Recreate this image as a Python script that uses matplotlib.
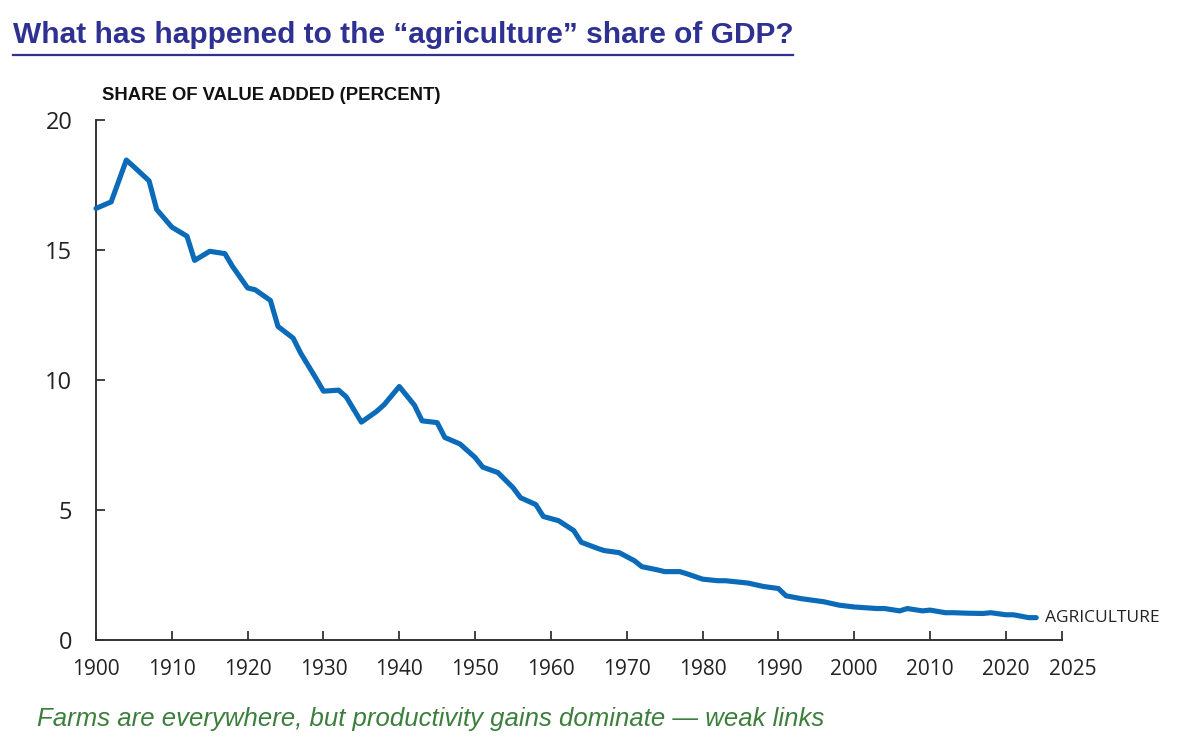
import matplotlib
matplotlib.use("Agg")
import matplotlib.pyplot as plt
from matplotlib.lines import Line2D
from matplotlib.transforms import ScaledTranslation

# ---- data ----
years = [1900, 1902, 1904, 1905, 1907, 1908, 1910, 1912, 1913, 1915, 1917, 1918,
         1920, 1921, 1923, 1924, 1926, 1927, 1929, 1930, 1932, 1933, 1935, 1937,
         1938, 1940, 1942, 1943, 1945, 1946, 1948, 1950, 1951, 1953, 1955, 1956,
         1958, 1959, 1961, 1963, 1964, 1966, 1967, 1969, 1971, 1972, 1974, 1975,
         1977, 1978, 1980, 1982, 1983, 1986, 1988, 1990, 1991, 1993, 1995, 1996,
         1998, 2000, 2001, 2003, 2004, 2006, 2007, 2009, 2010, 2012, 2013, 2015,
         2017, 2018, 2020, 2021, 2023, 2024]
agriculture = [16.6, 16.85, 18.46, 18.2, 17.66, 16.56, 15.88, 15.53, 14.6, 14.95, 14.86, 14.37,
               13.54, 13.47, 13.06, 12.06, 11.61, 11.03, 10.07, 9.57, 9.61, 9.35, 8.38, 8.79,
               9.05, 9.75, 9.03, 8.43, 8.36, 7.79, 7.54, 7.02, 6.65, 6.44, 5.86, 5.47,
               5.21, 4.75, 4.59, 4.21, 3.76, 3.54, 3.44, 3.36, 3.05, 2.82, 2.70, 2.63,
               2.63, 2.54, 2.34, 2.28, 2.28, 2.19, 2.06, 1.98, 1.70, 1.59, 1.51, 1.47,
               1.34, 1.27, 1.25, 1.21, 1.21, 1.12, 1.21, 1.12, 1.15, 1.05, 1.05, 1.03,
               1.02, 1.05, 0.97, 0.97, 0.86, 0.86]
series_label = "AGRICULTURE"
x_tick_values = [1900, 1910, 1920, 1930, 1940, 1950, 1960, 1970, 1980, 1990, 2000, 2010, 2020, 2027.4]
x_tick_labels = ["1900", "1910", "1920", "1930", "1940", "1950", "1960", "1970", "1980",
                 "1990", "2000", "2010", "2020", "2025"]
y_ticks = [0, 5, 10, 15, 20]

title = "What has happened to the \u201cagriculture\u201d share of GDP?"
axis_title = "SHARE OF VALUE ADDED (PERCENT)"
caption = "Farms are everywhere, but productivity gains dominate \u2014 weak links"

W, H = 1200, 751
fig = plt.figure(figsize=(W / 100, H / 100), dpi=100)
fig.patch.set_facecolor("white")

def fx(px):
    return px / W

def fy(py):
    return 1 - py / H

ax = fig.add_axes([fx(96), fy(640), fx(1062) - fx(96), fy(120) - fy(640)])
ax.set_facecolor("white")

line_color = "#0B6BB8"
ax.plot(years, agriculture, color=line_color, lw=3.7, solid_joinstyle="round",
        solid_capstyle="round", clip_on=False, zorder=3)
ax.annotate(series_label, xy=(years[-1], agriculture[-1]), xytext=(6, 0),
            textcoords="offset points", va="center", ha="left",
            fontsize=12.5, family=["Open Sans", "DejaVu Sans"], color="#222222")

ax.set_xlim(1900, 2027.4)
ax.set_ylim(0, 20)

for s in ["top", "right"]:
    ax.spines[s].set_visible(False)
for s in ["left", "bottom"]:
    ax.spines[s].set_color("#333333")
    ax.spines[s].set_linewidth(1.4)

ax.set_xticks(x_tick_values)
ax.set_xticklabels(x_tick_labels)
ax.set_yticks(y_ticks)
ax.tick_params(axis="both", direction="in", length=6.5, width=1.3, color="#333333")
ax.tick_params(axis="x", pad=14, labelsize=15, labelcolor="#222222")
ax.tick_params(axis="y", pad=17, labelsize=17, labelcolor="#222222")
for lab in ax.get_xticklabels() + ax.get_yticklabels():
    lab.set_family(["Open Sans", "DejaVu Sans"])
last = ax.get_xticklabels()[-1]
last.set_transform(last.get_transform() + ScaledTranslation(11 / 100, 0, fig.dpi_scale_trans))

# Title and underline
fig.text(fx(13), fy(43), title, ha="left", va="baseline", fontsize=21.5,
         fontweight="bold", family=["Liberation Sans", "DejaVu Sans"], color="#2E3192")
fig.add_artist(Line2D([fx(13), fx(793)], [fy(55), fy(55)], color="#2E3192", lw=1.6))

# Axis title
fig.text(fx(102), fy(96), axis_title, ha="left", va="center", fontsize=13.3,
         fontweight="bold", family=["Liberation Sans", "DejaVu Sans"], color="#111111")

# Caption
fig.text(fx(37), fy(719), caption, ha="left", va="center", fontsize=18.5,
         style="italic", family=["Liberation Sans", "DejaVu Sans"], color="#3C7F3C")

fig.savefig("out.png", dpi=100, facecolor="white")
